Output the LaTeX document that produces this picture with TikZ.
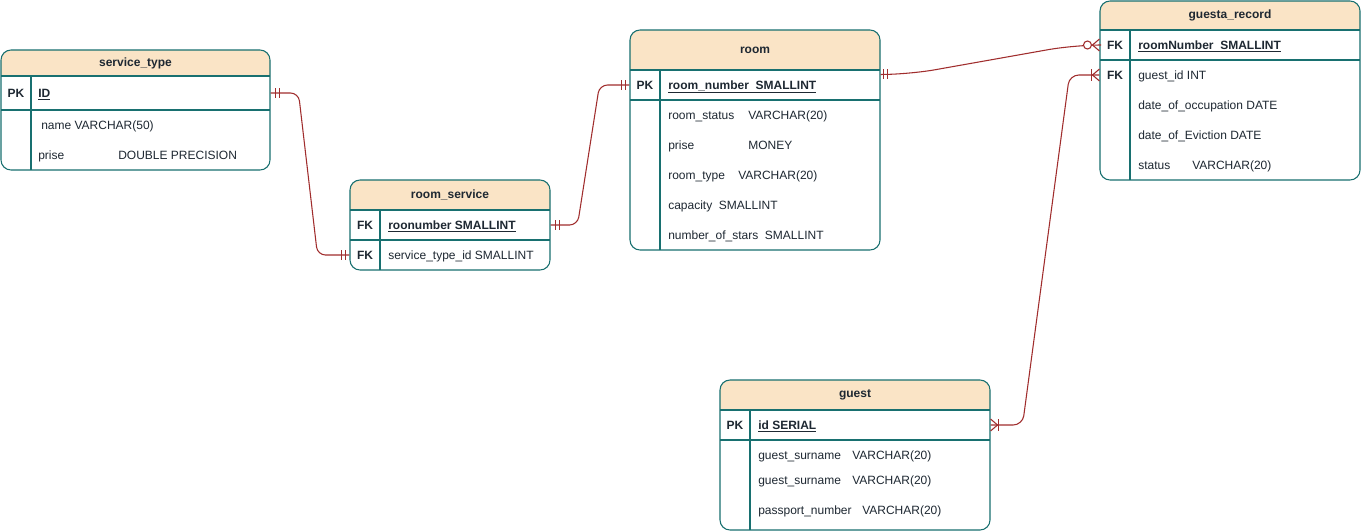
\documentclass[tikz,border=0pt]{standalone}
\usepackage{fontspec}
\setmainfont{Liberation Sans}
\usetikzlibrary{fit,calc}

\definecolor{hdrfill}{RGB}{250,228,198}
\definecolor{edgeteal}{RGB}{24,112,112}
\definecolor{relred}{RGB}{160,45,45}
\definecolor{txt}{RGB}{30,40,50}

\tikzset{
  tablebox/.style={draw=edgeteal, line width=0.8pt, rounded corners=7.5pt, inner sep=0pt},
  tableline/.style={draw=edgeteal, line width=0.8pt},
  titletext/.style={font=\bfseries\fontsize{9}{11}\selectfont, text=txt, inner sep=0pt},
  keytext/.style={font=\bfseries\fontsize{9}{11}\selectfont, text=txt, inner sep=0pt,
    text height=6.5pt, text depth=0pt},
  fieldtext/.style={font=\fontsize{9}{11}\selectfont, text=txt, inner sep=0pt, anchor=west,
    text height=6.5pt, text depth=0pt},
  keyfield/.style={fieldtext, font=\bfseries\fontsize{9}{11}\selectfont},
  rel/.style={draw=relred, line width=0.8pt},
}

% #1 name, #2 left, #3 top, #4 right, #5 bottom,
% #6 header bottom, #7 key column x, #8 key row bottom, #9 title
\newcommand\erbox[9]{%
  \begin{scope}
    \clip (#2,#3) rectangle (#4,#6);
    \fill[hdrfill, rounded corners=7.5pt] (#2,#3) rectangle (#4,#5);
  \end{scope}
  \node[tablebox, fit={(#2,#3) (#4,#5)}] (#1) {};
  \draw[tableline] (#2,#6) -- (#4,#6);
  \draw[tableline] (#2,#8) -- (#4,#8);
  \draw[tableline] (#7,#6) -- (#7,#5);
  \node[titletext] (#1-title) at ({(#2+#4)/2},{(#3+#6)/2}) {#9};
}

\begin{document}
\begin{tikzpicture}[x=0.75pt, y=-0.75pt]
  \fill[white] (0,0) rectangle (1361,532);
  \useasboundingbox (0,0) rectangle (1361,532);

  % service_type
  \erbox{st}{1}{50}{270}{170}{76}{31}{110}{service\_type}
  \node[keytext] (st-pk) at (16,93) {PK};
  \node[keyfield] (st-id) at (38,93) {\underline{ID}};
  \node[fieldtext] (st-name) at (41,125) {name VARCHAR(50)};
  \node[fieldtext] (st-prise) at (38,155) {\makebox[60pt][l]{prise}DOUBLE PRECISION};

  % room_service
  \erbox{rs}{350}{180}{550}{270}{210}{380}{240}{room\_service}
  \node[keytext] (rs-fk1) at (365,225) {FK};
  \node[keyfield] (rs-num) at (388,225) {\underline{roonumber SMALLINT}};
  \node[keytext] (rs-fk2) at (365,255) {FK};
  \node[fieldtext] (rs-st) at (388,255) {service\_type\_id SMALLINT};

  % room
  \erbox{room}{630}{30}{880}{250}{70}{660}{100}{room}
  \node[keytext] (room-pk) at (645,85) {PK};
  \node[keyfield] (room-num) at (668,85) {\underline{room\_number~~SMALLINT}};
  \node[fieldtext] (room-status) at (668,115) {\makebox[60pt][l]{room\_status}VARCHAR(20)};
  \node[fieldtext] (room-prise) at (668,145) {\makebox[60pt][l]{prise}MONEY};
  \node[fieldtext] (room-type) at (668,175) {\makebox[52.5pt][l]{room\_type}VARCHAR(20)};
  \node[fieldtext] (room-cap) at (668,205) {capacity~~SMALLINT};
  \node[fieldtext] (room-stars) at (668,235) {number\_of\_stars~~SMALLINT};

  % guesta_record
  \erbox{gr}{1100}{1}{1360}{180}{30}{1130}{60}{guesta\_record}
  \node[keytext] (gr-fk1) at (1115,45) {FK};
  \node[keyfield] (gr-room) at (1138,45) {\underline{roomNumber~~SMALLINT}};
  \node[keytext] (gr-fk2) at (1115,75) {FK};
  \node[fieldtext] (gr-guest) at (1138,75) {guest\_id INT};
  \node[fieldtext] (gr-occ) at (1138,105) {date\_of\_occupation DATE};
  \node[fieldtext] (gr-ev) at (1138,135) {date\_of\_Eviction DATE};
  \node[fieldtext] (gr-status) at (1138,165) {\makebox[40.5pt][l]{status}VARCHAR(20)};

  % guest
  \erbox{gu}{720}{380}{990}{530}{410}{750}{440}{guest}
  \node[keytext] (gu-pk) at (735,425) {PK};
  \node[keyfield] (gu-id) at (758,425) {\underline{id SERIAL}};
  \node[fieldtext] (gu-s1) at (758,455) {\makebox[70.5pt][l]{guest\_surname}VARCHAR(20)};
  \node[fieldtext] (gu-s2) at (758,480) {\makebox[70.5pt][l]{guest\_surname}VARCHAR(20)};
  \node[fieldtext] (gu-pass) at (758,510) {\makebox[78pt][l]{passport\_number}VARCHAR(20)};

  % connector end points
  \coordinate (e1a) at (st.east |- st-pk);
  \coordinate (e1b) at (rs.west |- rs-fk2);
  \coordinate (e2a) at (rs.east |- rs-fk1);
  \coordinate (e2b) at (room.west |- room-pk);
  \coordinate (e3a) at ($(room.north east)+(0,45)$);
  \coordinate (e3b) at (gr.west |- gr-fk1);
  \coordinate (e4a) at (gu.east |- gu-pk);
  \coordinate (e4b) at (gr.west |- gr-fk2);

  % service_type -- room_service (one to one)
  \draw[rel, rounded corners=6pt] (e1a) -- ++(28,0) -- ($(e1b)+(-32,0)$) -- (e1b);
  \draw[rel] ($(e1a)+(5,-5)$) -- ++(0,10) ($(e1a)+(9,-5)$) -- ++(0,10);
  \draw[rel] ($(e1b)+(-4,-5)$) -- ++(0,10) ($(e1b)+(-8,-5)$) -- ++(0,10);

  % room_service -- room (one to one)
  \draw[rel, rounded corners=6pt] (e2a) -- ++(27,0) -- ($(e2b)+(-30,0)$) -- (e2b);
  \draw[rel] ($(e2a)+(5,-5)$) -- ++(0,10) ($(e2a)+(9,-5)$) -- ++(0,10);
  \draw[rel] ($(e2b)+(-4,-5)$) -- ++(0,10) ($(e2b)+(-8,-5)$) -- ++(0,10);

  % room -- guesta_record (one to zero-or-many)
  \draw[rel, rounded corners=20pt] (e3a) -- ++(28,0) -- ($(e3b)+(-25,0)$) -- (e3b);
  \draw[rel] ($(e3a)+(3,-5)$) -- ++(0,10) ($(e3a)+(6.5,-5)$) -- ++(0,10);
  \draw[rel, fill=white] ($(e3b)+(-12,0)$) circle[radius=3pt];
  \draw[rel] ($(e3b)+(0,-6)$) -- ($(e3b)+(-7,0)$) -- ($(e3b)+(0,6)$);

  % guest -- guesta_record (one-or-many at both ends)
  \draw[rel, rounded corners=7pt] (e4a) -- ++(32,0) -- ($(e4b)+(-30,0)$) -- (e4b);
  \draw[rel] ($(e4b)+(-8,-6)$) -- ++(0,12);
  \draw[rel] ($(e4b)+(0,-6)$) -- ($(e4b)+(-7,0)$) -- ($(e4b)+(0,6)$);
  \draw[rel] ($(e4a)+(8,-6)$) -- ++(0,12);
  \draw[rel] ($(e4a)+(0,-6)$) -- ($(e4a)+(7,0)$) -- ($(e4a)+(0,6)$);
\end{tikzpicture}
\end{document}
